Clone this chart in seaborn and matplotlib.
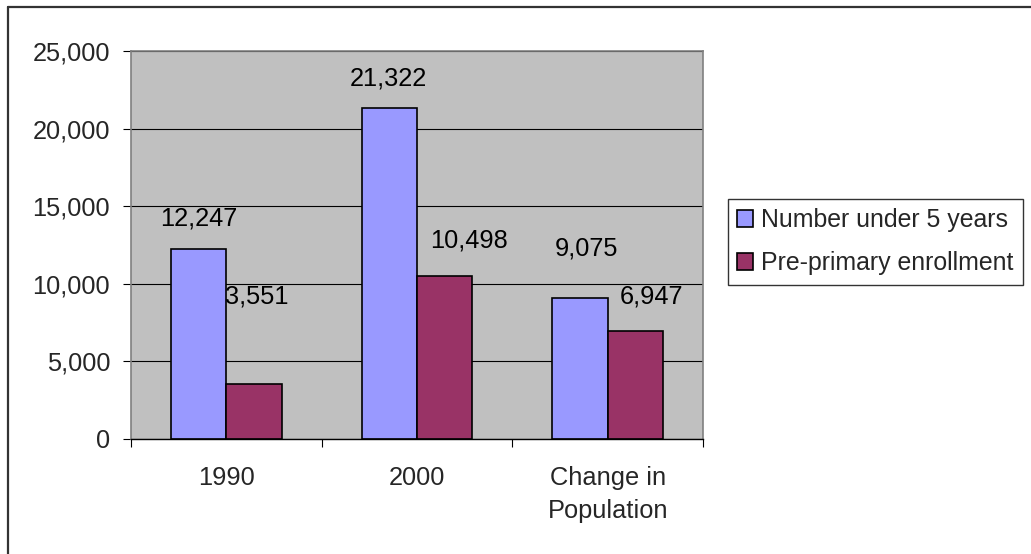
import matplotlib
matplotlib.use("Agg")
import matplotlib.pyplot as plt
from matplotlib.lines import Line2D
import seaborn as sns
import pandas as pd

# Chart data
categories = ["1990", "2000", "Change in\nPopulation"]
series_names = ["Number under 5 years", "Pre-primary enrollment"]
under_five = [12247, 21322, 9075]
pre_primary = [3551, 10498, 6947]
y_ticks = [0, 5000, 10000, 15000, 20000, 25000]

# Label placement tweaks (pixels, relative to bar top centre), one row per series
label_offsets = [[(0, 30), (-1, 30), (6, 50)], [(3, 87), (24, 36), (16, 35)]]

colors = ["#9999FF", "#993366"]

df = pd.DataFrame({
    "category": categories * 2,
    "value": under_five + pre_primary,
    "series": [series_names[0]] * 3 + [series_names[1]] * 3,
})

sns.set_theme(style="white")
plt.rcParams["font.family"] = ["Liberation Sans", "DejaVu Sans"]
FS = 18.3
LEG_FS = 17.9

fig = plt.figure(figsize=(10.31, 5.54), dpi=100)
ax = fig.add_axes([131 / 1031, 1 - 439 / 554, 572 / 1031, 388 / 554])
ax.set_facecolor("#C0C0C0")

sns.barplot(data=df, x="category", y="value", hue="series", order=categories,
            hue_order=series_names, palette=colors, saturation=1, width=0.58,
            gap=0, edgecolor="black", linewidth=1.2, ax=ax, legend=True)

ax.set_xlim(-0.5, 2.5)
ax.set_ylim(0, 25000)
ax.set_xlabel("")
ax.set_ylabel("")
ax.set_yticks(y_ticks)
ax.set_yticklabels([f"{v:,}" for v in y_ticks], fontsize=FS)
ax.tick_params(axis="y", direction="out", length=6, width=0.8, color="black",
               pad=9, left=True)
ax.set_xticks(range(len(categories)))
ax.set_xticklabels(categories, fontsize=FS, linespacing=1.45)
ax.tick_params(axis="x", which="major", length=0, pad=19.5)
ax.set_xticks([-0.5, 0.5, 1.5, 2.5], minor=True)
ax.tick_params(axis="x", which="minor", direction="out", length=6, width=0.8,
               color="black", bottom=True)

ax.grid(axis="y", color="black", linewidth=0.8)
ax.grid(axis="x", visible=False)
ax.set_axisbelow(True)
for side in ["top", "right", "left"]:
    ax.spines[side].set_color("#808080")
    ax.spines[side].set_linewidth(1.2)
ax.spines["bottom"].set_color("black")
ax.spines["bottom"].set_linewidth(1.0)

# Value labels above each bar
for s_idx, cont in enumerate(ax.containers):
    for c_idx, bar in enumerate(cont):
        h = bar.get_height()
        dx, dy = label_offsets[s_idx][c_idx]
        ax.annotate(f"{int(round(h)):,}", (bar.get_x() + bar.get_width() / 2, h),
                    xytext=(dx, dy), textcoords="offset pixels",
                    ha="center", va="center", fontsize=FS, color="black")

handles, labels = ax.get_legend_handles_labels()
ax.get_legend().remove()
leg = fig.legend(handles, labels, loc="upper left",
                 bbox_to_anchor=(728 / 1031, 1 - 199 / 554),
                 fontsize=LEG_FS, frameon=True, fancybox=False, shadow=False,
                 handlelength=0.64, handleheight=0.64, handletextpad=0.3,
                 labelspacing=0.76, borderpad=0.38, borderaxespad=0)
leg.get_frame().set_edgecolor("black")
leg.get_frame().set_linewidth(1.0)
for h in leg.legend_handles:
    h.set_edgecolor("black")
    h.set_linewidth(1.2)

# Outer chart border (left and top edges)
fig.add_artist(Line2D([7.5 / 1031, 7.5 / 1031], [0, 1 - 7 / 554],
                      transform=fig.transFigure, color="#333333", linewidth=1.6))
fig.add_artist(Line2D([7.5 / 1031, 1], [1 - 7 / 554, 1 - 7 / 554],
                      transform=fig.transFigure, color="#333333", linewidth=1.6))

fig.savefig("out.png", dpi=100)
